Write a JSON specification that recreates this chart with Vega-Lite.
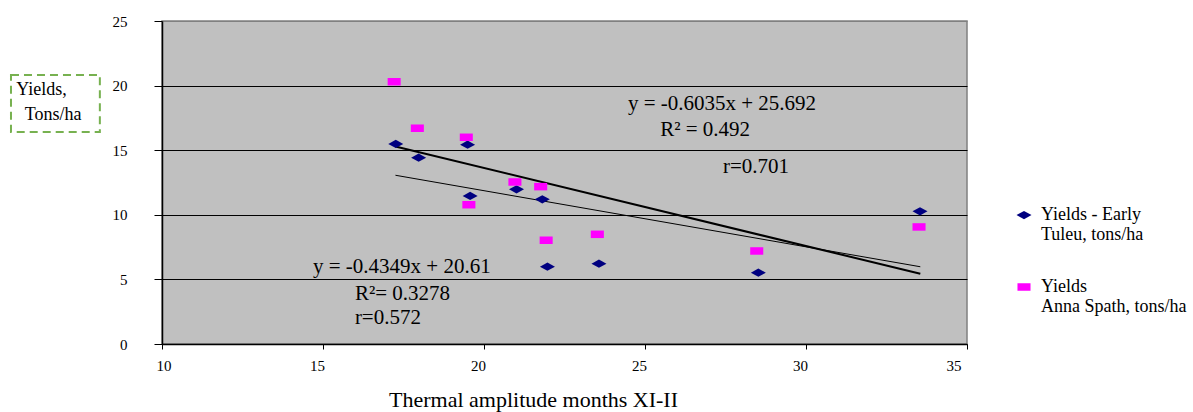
{
  "$schema": "https://vega.github.io/schema/vega-lite/v6.json",
  "width": 805,
  "height": 323,
  "autosize": "none",
  "padding": {"left": 162, "top": 21, "right": 226, "bottom": 68},
  "background": "white",
  "config": {
    "view": {"fill": "#c0c0c0", "stroke": "#808080", "strokeWidth": 1.5},
    "font": "Liberation Serif",
    "axis": {"labelFont": "Liberation Serif", "titleFont": "Liberation Serif", "labelColor": "black", "titleColor": "black", "domainColor": "black", "tickColor": "black", "titleFontWeight": "normal", "domainWidth": 1.5},
    "legend": {"labelFont": "Liberation Serif"}
  },
  "datasets": {
    "points": [
      {"x": 17.26, "y": 15.48, "series": "Yields - Early Tuleu, tons/ha"},
      {"x": 17.97, "y": 14.42, "series": "Yields - Early Tuleu, tons/ha"},
      {"x": 19.49, "y": 15.43, "series": "Yields - Early Tuleu, tons/ha"},
      {"x": 19.57, "y": 11.46, "series": "Yields - Early Tuleu, tons/ha"},
      {"x": 21.01, "y": 11.97, "series": "Yields - Early Tuleu, tons/ha"},
      {"x": 21.81, "y": 11.2, "series": "Yields - Early Tuleu, tons/ha"},
      {"x": 21.97, "y": 5.98, "series": "Yields - Early Tuleu, tons/ha"},
      {"x": 23.57, "y": 6.22, "series": "Yields - Early Tuleu, tons/ha"},
      {"x": 28.52, "y": 5.52, "series": "Yields - Early Tuleu, tons/ha"},
      {"x": 33.54, "y": 10.27, "series": "Yields - Early Tuleu, tons/ha"},
      {"x": 17.21, "y": 20.3, "series": "Yields Anna Spath, tons/ha"},
      {"x": 17.93, "y": 16.7, "series": "Yields Anna Spath, tons/ha"},
      {"x": 19.45, "y": 16.0, "series": "Yields Anna Spath, tons/ha"},
      {"x": 19.53, "y": 10.78, "series": "Yields Anna Spath, tons/ha"},
      {"x": 20.96, "y": 12.54, "series": "Yields Anna Spath, tons/ha"},
      {"x": 21.76, "y": 12.18, "series": "Yields Anna Spath, tons/ha"},
      {"x": 21.93, "y": 8.03, "series": "Yields Anna Spath, tons/ha"},
      {"x": 23.52, "y": 8.49, "series": "Yields Anna Spath, tons/ha"},
      {"x": 28.47, "y": 7.2, "series": "Yields Anna Spath, tons/ha"},
      {"x": 33.51, "y": 9.06, "series": "Yields Anna Spath, tons/ha"}
    ],
    "trend": [
      {"x": 17.25, "y": 15.28, "line": "A"},
      {"x": 33.55, "y": 5.44, "line": "A"},
      {"x": 17.25, "y": 13.06, "line": "B"},
      {"x": 33.55, "y": 5.98, "line": "B"}
    ],
    "notes": [
      {"x": 24.47, "y": 18.11, "label": "y = -0.6035x + 25.692"},
      {"x": 25.47, "y": 16.1, "label": "R² = 0.492"},
      {"x": 27.42, "y": 13.24, "label": "r=0.701"},
      {"x": 14.69, "y": 5.5, "label": "y = -0.4349x + 20.61"},
      {"x": 15.99, "y": 3.4, "label": "R²= 0.3278"},
      {"x": 15.99, "y": 1.55, "label": "r=0.572"}
    ],
    "ytitle": [
      {"x": 5.47, "y": 19.3, "label": "Yields,"},
      {"x": 5.74, "y": 17.36, "label": "Tons/ha"}
    ],
    "box": [
      {"bx": 5.31, "bx2": 8.07, "by": 20.82, "by2": 16.41}
    ]
  },
  "encoding": {
    "x": {
      "field": "x", "type": "quantitative",
      "scale": {"domain": [10, 35], "nice": false, "zero": false},
      "axis": {"title": "Thermal amplitude months XI-II", "values": [10, 15, 20, 25, 30, 35], "grid": false, "tickSize": 5, "labelFont": "Liberation Serif", "labelFontSize": 15, "labelPadding": 9, "labelOffset": -6, "titleFont": "Liberation Serif", "titleFontSize": 22, "titleX": 371, "titleY": 62, "titleBaseline": "alphabetic"}
    },
    "y": {
      "field": "y", "type": "quantitative",
      "scale": {"domain": [0, 25], "nice": false, "zero": false},
      "axis": {"title": null, "values": [0, 5, 10, 15, 20, 25], "grid": true, "gridColor": {"condition": {"test": "datum.value == 25", "value": "#808080"}, "value": "black"}, "gridWidth": 1, "tickSize": 8, "labelPadding": 27, "labelFont": "Liberation Serif", "labelFontSize": 15}
    }
  },
  "layer": [
    {
      "data": {"name": "box"},
      "mark": {"type": "rect", "fill": "white", "fillOpacity": 0, "stroke": "#77b150", "strokeWidth": 2, "strokeDash": [8, 5], "clip": false},
      "encoding": {
        "x": {"field": "bx", "type": "quantitative"},
        "x2": {"field": "bx2"},
        "y": {"field": "by", "type": "quantitative"},
        "y2": {"field": "by2"}
      }
    },
    {
      "data": {"name": "ytitle"},
      "mark": {"type": "text", "align": "left", "baseline": "alphabetic", "font": "Liberation Serif", "fontSize": 18, "color": "black", "clip": false},
      "encoding": {"text": {"field": "label"}}
    },
    {
      "data": {"name": "trend"},
      "transform": [{"filter": "datum.line == 'A'"}],
      "mark": {"type": "line", "color": "black", "strokeWidth": 2}
    },
    {
      "data": {"name": "trend"},
      "transform": [{"filter": "datum.line == 'B'"}],
      "mark": {"type": "line", "color": "black", "strokeWidth": 1}
    },
    {
      "data": {"name": "points"},
      "mark": {"type": "point", "filled": true, "opacity": 1, "size": 225},
      "encoding": {
        "color": {
          "field": "series", "type": "nominal",
          "scale": {"domain": ["Yields - Early Tuleu, tons/ha", "Yields Anna Spath, tons/ha"], "range": ["#000080", "#ff00ff"]},
          "legend": {"orient": "none", "legendX": 853, "legendY": 185, "title": null, "padding": 0, "labelFont": "Liberation Serif", "labelFontSize": 18, "labelLimit": 400, "labelColor": "black", "labelOffset": 8, "labelBaseline": "middle", "labelLineHeight": 22, "rowPadding": 34, "symbolSize": 225, "symbolStrokeWidth": 0, "labelExpr": "datum.label == 'Yields - Early Tuleu, tons/ha' ? ['Yields - Early', 'Tuleu, tons/ha'] : ['Yields', 'Anna Spath, tons/ha']"}
        },
        "shape": {
          "field": "series", "type": "nominal",
          "scale": {"domain": ["Yields - Early Tuleu, tons/ha", "Yields Anna Spath, tons/ha"], "range": ["M-1,0L0,-0.55L1,0L0,0.55Z", "M-0.87,-0.5H0.87V0.5H-0.87Z"]}
        }
      }
    },
    {
      "data": {"name": "notes"},
      "mark": {"type": "text", "align": "left", "baseline": "alphabetic", "font": "Liberation Serif", "fontSize": 21, "color": "black"},
      "encoding": {"text": {"field": "label"}}
    }
  ]
}
